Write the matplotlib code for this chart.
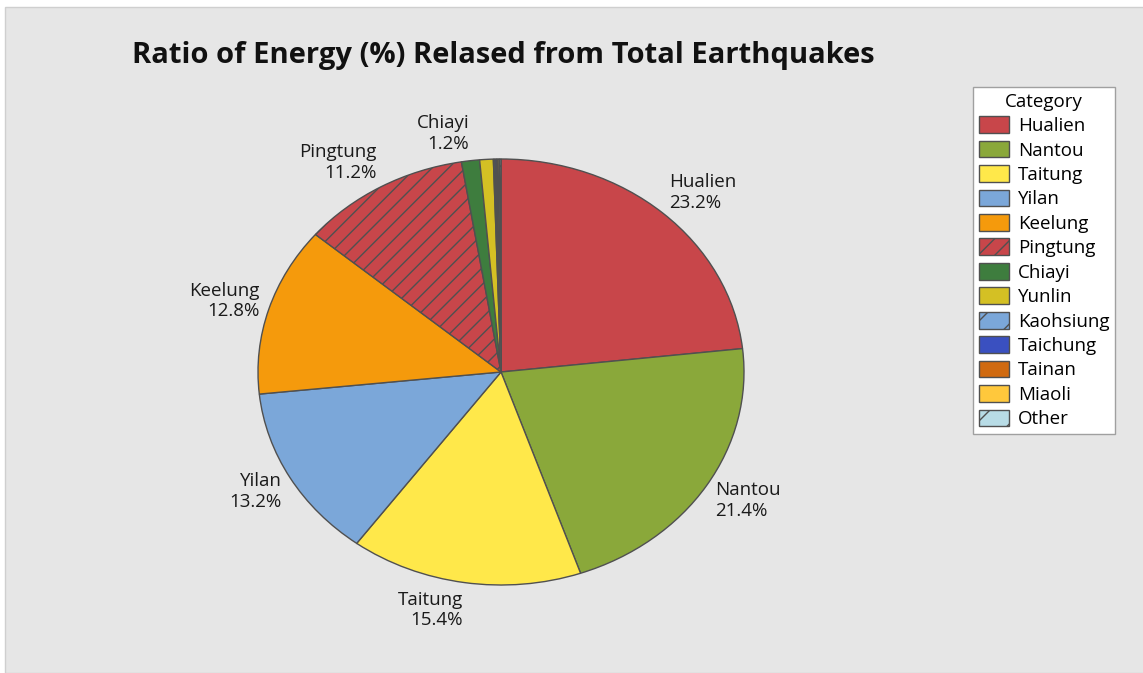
import matplotlib
matplotlib.use("Agg")
from matplotlib import pyplot as plt
from matplotlib.patches import Rectangle

plt.rcParams['font.family'] = ['Open Sans', 'DejaVu Sans']

categories = ['Hualien', 'Nantou', 'Taitung', 'Yilan', 'Keelung', 'Pingtung', 'Chiayi',
              'Yunlin', 'Kaohsiung', 'Taichung', 'Tainan', 'Miaoli', 'Other']
energy_pct = [23.2, 21.4, 15.4, 13.2, 12.8, 11.2, 1.2, 0.9, 0.1, 0.1, 0.1, 0.1, 0.1]
shown = ['Hualien', 'Nantou', 'Taitung', 'Yilan', 'Keelung', 'Pingtung', 'Chiayi']

colors = ['#c8464a', '#8aa83a', '#ffe84a', '#7ba7d9', '#f59a0c', '#c8464a', '#3e7d3e',
          '#d4c024', '#7ba7d9', '#3a50c0', '#d06a10', '#ffc83c', '#b8dce6']
hatches = ['', '', '', '', '', '//', '', '', '/', '', '', '', '/']

W, H = 1143, 673
fig = plt.figure(figsize=(W / 100, H / 100), dpi=100)
fig.patch.set_facecolor('white')
fig.add_artist(Rectangle((5 / W, 0), 1, 1 - 7 / H, transform=fig.transFigure,
                         facecolor='#e6e6e6', edgecolor='#cfcfcf', lw=1, zorder=-10))

# pie center (501,372), rx 243, ry 213 px
cx, cy, rx, ry = 501, 372, 243, 213
xl, yl = 1.5, 1.4
ax = fig.add_axes([(cx - xl * rx) / W, 1 - (cy + yl * ry) / H,
                   2 * xl * rx / W, 2 * yl * ry / H])
ax.set_facecolor('none')

labels = []
for c, v in zip(categories, energy_pct):
    labels.append(f'{c}\n{v:.1f}%' if c in shown else '')

wedges, texts = ax.pie(energy_pct, labels=labels, colors=colors, startangle=90,
                       counterclock=False, labeldistance=1.1,
                       wedgeprops=dict(edgecolor='#505050', linewidth=1),
                       textprops=dict(fontsize=13.5, color='#1a1a1a', linespacing=1.2))
for w, h in zip(wedges, hatches):
    if h:
        w.set_hatch(h)
# labels sit a bit closer sideways and a bit further up/down
for t in texts:
    x, y = t.get_position()
    t.set_position((x / 1.1 * 1.04, y / 1.1 * 1.13))
ax.set_aspect('auto')
ax.set_xlim(-xl, xl)
ax.set_ylim(-yl, yl)

fig.text(132 / W, 1 - 55 / H, 'Ratio of Energy (%) Relased from Total Earthquakes',
         fontsize=21, fontweight='bold', ha='left', va='center', color='#111111')

leg = fig.legend(wedges, categories, title='Category', loc='upper left',
                 bbox_to_anchor=(973 / W, 1 - 87 / H), fontsize=13.5, title_fontsize=13.5,
                 frameon=True, fancybox=False, edgecolor='#a0a0a0', facecolor='white',
                 framealpha=1, borderpad=0.3, labelspacing=0.3, handlelength=1.6,
                 handleheight=1.0, handletextpad=0.5, borderaxespad=0)
leg.get_frame().set_linewidth(1)

fig.savefig('out.png', dpi=100)
